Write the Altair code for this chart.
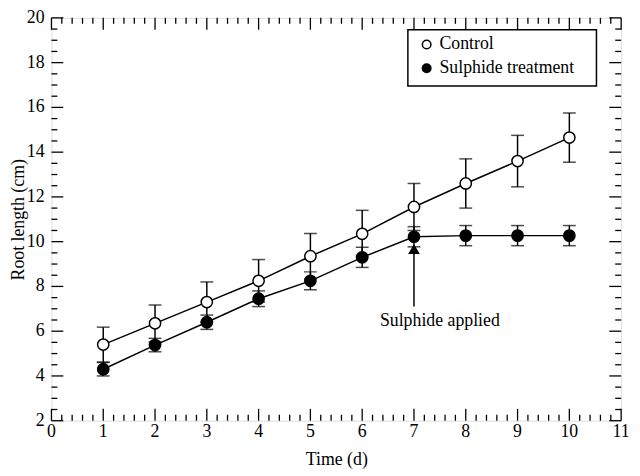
import altair as alt
import pandas as pd

days = [1, 2, 3, 4, 5, 6, 7, 8, 9, 10]
control = [5.4, 6.35, 7.3, 8.25, 9.35, 10.35, 11.55, 12.6, 13.6, 14.65]
control_err = [0.78, 0.82, 0.9, 0.95, 1.02, 1.05, 1.05, 1.1, 1.15, 1.1]
sulphide = [4.3, 5.38, 6.4, 7.45, 8.25, 9.3, 10.22, 10.27, 10.27, 10.27]
sulphide_err = [0.3, 0.3, 0.32, 0.35, 0.4, 0.45, 0.45, 0.45, 0.45, 0.45]

series_names = ["Control", "Sulphide treatment"]
series_fills = ["white", "black"]
x_major = list(range(0, 12))
x_minor = [round(i * 0.2, 1) for i in range(0, 56) if i % 5 != 0]
y_major = list(range(2, 21, 2))
y_minor = [round(2 + i * 0.5, 1) for i in range(0, 37) if i % 4 != 0]

arrow_day = 7
arrow_from = 7.1
arrow_to = 9.65
note_text = "Sulphide applied"
note_x = 7.5
note_y = 6.45

W, H = 577, 408
FONT = "Liberation Serif"
FS = 18
MAJ, MIN = 12, 6

rows = []
for d, v, e in zip(days, control, control_err):
    rows.append({"day": d, "value": v, "lo": v - e, "hi": v + e, "series": series_names[0]})
for d, v, e in zip(days, sulphide, sulphide_err):
    rows.append({"day": d, "value": v, "lo": v - e, "hi": v + e, "series": series_names[1]})
df = pd.DataFrame(rows)

xs = alt.Scale(domain=[0, 11], nice=False, zero=False)
ys = alt.Scale(domain=[2, 20], nice=False, zero=False)

base = alt.Chart(df)

x_enc = alt.X("day:Q", scale=xs, axis=alt.Axis(
    labels=False, ticks=False, domain=False, grid=False,
    title="Time (d)", titleFont=FONT, titleFontSize=FS, titleFontWeight="normal",
    titleColor="black", titleX=W / 2, titleY=30, titleBaseline="top"))
y_enc = alt.Y("value:Q", scale=ys, axis=alt.Axis(
    labels=False, ticks=False, domain=False, grid=False,
    title="Root length (cm)", titleFont=FONT, titleFontSize=FS, titleFontWeight="normal",
    titleColor="black", titleX=-24, titleY=H / 2))

lines = base.mark_line(color="black", strokeWidth=1.5).encode(
    x=x_enc, y=y_enc, detail="series:N")

err = base.mark_rule(color="black", strokeWidth=1.5).encode(
    x=alt.X("day:Q", scale=xs), y=alt.Y("lo:Q", scale=ys), y2="hi:Q")
cap_lo = base.mark_tick(color="black", thickness=1.5, size=13, orient="horizontal").encode(
    x=alt.X("day:Q", scale=xs), y=alt.Y("lo:Q", scale=ys))
cap_hi = base.mark_tick(color="black", thickness=1.5, size=13, orient="horizontal").encode(
    x=alt.X("day:Q", scale=xs), y=alt.Y("hi:Q", scale=ys))

points = base.mark_point(shape="circle", size=130, stroke="black", strokeWidth=1.5, opacity=1).encode(
    x=alt.X("day:Q", scale=xs), y=alt.Y("value:Q", scale=ys),
    fill=alt.Fill("series:N", scale=alt.Scale(domain=series_names, range=series_fills),
                  legend=None))

# legend drawn with marks (box, symbols, labels)
legend_box = alt.Chart(pd.DataFrame({"k": [0]})).mark_rect(
    fill="white", stroke="black", strokeWidth=1.5).encode(
    x=alt.value(361), x2=alt.value(552), y=alt.value(12), y2=alt.value(69))
legend_layers = []
for i, (name, fillc) in enumerate(zip(series_names, series_fills)):
    one = alt.Chart(pd.DataFrame({"series": [name]}))
    legend_layers.append(one.mark_point(shape="circle", size=75, stroke="black",
                                        strokeWidth=1.5, fill=fillc, opacity=1).encode(
        x=alt.value(380), y=alt.value(27 + 24 * i)))
    legend_layers.append(one.mark_text(font=FONT, fontSize=FS, color="black", align="left",
                                       baseline="middle").encode(
        x=alt.value(393), y=alt.value(27 + 24 * i), text="series:N"))

ann_df = pd.DataFrame({"day": [arrow_day], "a": [arrow_from], "b": [arrow_to]})
arrow_line = alt.Chart(ann_df).mark_rule(color="black", strokeWidth=1.5).encode(
    x=alt.X("day:Q", scale=xs), y=alt.Y("a:Q", scale=ys), y2="b:Q")
arrow_head = alt.Chart(ann_df).mark_point(shape="triangle-up", size=70, fill="black",
                                          stroke="black", opacity=1, filled=True).encode(
    x=alt.X("day:Q", scale=xs), y=alt.Y("b:Q", scale=ys))
note = alt.Chart(pd.DataFrame({"x": [note_x], "y": [note_y], "t": [note_text]})).mark_text(
    font=FONT, fontSize=FS, color="black", align="center", baseline="middle").encode(
    x=alt.X("x:Q", scale=xs), y=alt.Y("y:Q", scale=ys), text="t:N")

# tick labels as text marks (placed through the scales)
xlab = alt.Chart(pd.DataFrame({"v": x_major})).mark_text(
    font=FONT, fontSize=FS, color="black", align="center", baseline="middle").encode(
    x=alt.X("v:Q", scale=xs), y=alt.value(H + 12), text=alt.Text("v:Q", format="d"))
ylab = alt.Chart(pd.DataFrame({"v": y_major})).mark_text(
    font=FONT, fontSize=FS, color="black", align="right", baseline="middle").encode(
    y=alt.Y("v:Q", scale=ys), x=alt.value(-7), text=alt.Text("v:Q", format="d"))

def xticks(df_, length, top):
    c = alt.Chart(df_).mark_rule(color="black", strokeWidth=1.3)
    if top:
        return c.encode(x=alt.X("v:Q", scale=xs), y=alt.value(0), y2=alt.value(length))
    return c.encode(x=alt.X("v:Q", scale=xs), y=alt.value(H), y2=alt.value(H - length))

def yticks(df_, length, right):
    c = alt.Chart(df_).mark_rule(color="black", strokeWidth=1.3)
    if right:
        return c.encode(y=alt.Y("v:Q", scale=ys), x=alt.value(W), x2=alt.value(W - length))
    return c.encode(y=alt.Y("v:Q", scale=ys), x=alt.value(0), x2=alt.value(length))

xt_maj = pd.DataFrame({"v": x_major})
xt_min = pd.DataFrame({"v": x_minor})
yt_maj = pd.DataFrame({"v": y_major})
yt_min = pd.DataFrame({"v": y_minor})

tick_layers = [
    xticks(xt_maj, MAJ, False), xticks(xt_min, MIN, False),
    xticks(xt_maj, MAJ, True), xticks(xt_min, MIN, True),
    yticks(yt_maj, MAJ, False), yticks(yt_min, MIN, False),
    yticks(yt_maj, MAJ, True), yticks(yt_min, MIN, True),
]

chart = alt.layer(
    lines, *tick_layers, xlab, ylab, err, cap_lo, cap_hi, arrow_line, arrow_head, note,
    legend_box, *legend_layers, points
).properties(
    width=W, height=H,
    autosize=alt.AutoSizeParams(type="none"),
    padding={"left": 44, "top": 7, "right": 11, "bottom": 53},
).configure_view(stroke="black", strokeWidth=1.5).configure(
    background="white", font=FONT,
)

chart.save("out.html", embed_options={"renderer": "svg", "actions": False})
